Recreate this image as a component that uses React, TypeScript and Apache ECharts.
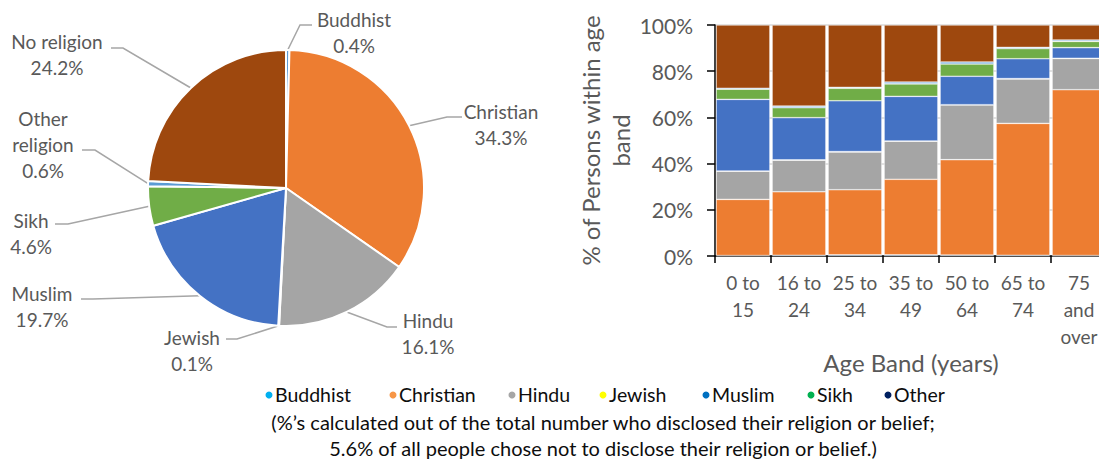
import React, { useEffect, useRef } from "react";
import * as echarts from "echarts";

const FONT = 'Lato, "Open Sans", sans-serif';

// ---- Pie data (overall) ----
const PIE_NAMES = ["Buddhist", "Christian", "Hindu", "Jewish", "Muslim", "Sikh", "Other religion", "No religion"];
const PIE_VALUES = [0.4, 34.3, 16.1, 0.1, 19.7, 4.6, 0.6, 24.2];
const PIE_COLORS = ["#5B9BD5", "#ED7D31", "#A5A5A5", "#FFC000", "#4472C4", "#70AD47", "#5B9BD5", "#9E480E"];

// ---- Stacked bar data (by age band, % of persons) ----
const AGE_BANDS = ["0 to 15", "16 to 24", "25 to 34", "35 to 49", "50 to 64", "65 to 74", "75 and over"];
const BAR_NAMES = ["Buddhist", "Christian", "Hindu", "Jewish", "Muslim", "Sikh", "Other", "No religion"];
const BUDDHIST = [0.2, 0.3, 0.5, 0.5, 0.4, 0.3, 0.2];
const CHRISTIAN = [24.3, 27.5, 28.2, 32.7, 41.3, 57.1, 71.8];
const HINDU = [12.2, 13.7, 16.3, 16.5, 23.7, 19.2, 13.5];
const JEWISH = [0.1, 0.1, 0.2, 0.1, 0.1, 0.2, 0.1];
const MUSLIM = [31.0, 18.3, 22.0, 19.3, 12.3, 8.6, 4.6];
const SIKH = [4.4, 4.3, 5.4, 5.4, 5.3, 4.4, 2.7];
const OTHER = [0.4, 0.7, 0.4, 0.8, 0.9, 0.5, 0.6];
const NO_RELIGION = [27.4, 35.1, 27.0, 24.7, 16.0, 9.7, 6.5];
const BAR_COLORS = ["#5B9BD5", "#ED7D31", "#A5A5A5", "#FFC000", "#4472C4", "#70AD47", "#5B9BD5", "#9E480E"];

// ---- Legend / footnote ----
const LEGEND_NAMES = ["Buddhist", "Christian", "Hindu", "Jewish", "Muslim", "Sikh", "Other"];
const LEGEND_COLORS = ["#00B0F0", "#F79646", "#A6A6A6", "#FFFF00", "#0070C0", "#00B050", "#002060"];
const FOOTNOTE =
  "(%\u2019s calculated out of the total number who disclosed their religion or belief;\n5.6% of all people chose not to disclose their religion or belief.)";

// ---- Layout (positions only) ----
const LEGEND_X = [275, 399, 518, 609, 712, 817, 894];
const PIE_LABEL_POS = [
  [354, 32.5], [501, 124], [428, 333.5], [192, 350],
  [42, 306.5], [31, 233], [43, 144], [57, 54.5],
];
const PIE_LEADER = [
  [[300, 25], [312, 25]],
  [[447, 117], [462, 117]],
  [[387, 327], [397, 327]],
  [[237, 339], [226, 339]],
  [[93, 299], [81, 299]],
  [[68, 224], [55, 224]],
  [[95, 150], [82, 150]],
  [[123, 48], [111, 48]],
];

export default function App() {
  const ref = useRef<HTMLDivElement>(null);

  useEffect(() => {
    document.body.style.margin = "0";
    if (!ref.current) return;
    const chart = echarts.init(ref.current, null, { renderer: "svg" });

    const barData = [BUDDHIST, CHRISTIAN, HINDU, JEWISH, MUSLIM, SIKH, OTHER, NO_RELIGION];

    const option: any = {
      animation: false,
      textStyle: { fontFamily: FONT },
      grid: { left: 715, top: 25, width: 392, height: 231, containLabel: false, outerBoundsMode: "none" },
      xAxis: {
        type: "category",
        data: AGE_BANDS,
        axisLine: { show: true, lineStyle: { color: "#000", width: 1.5 } },
        axisTick: { show: true, length: 7, lineStyle: { color: "#000", width: 1.5 } },
        axisLabel: {
          interval: 0,
          margin: 13,
          fontFamily: FONT,
          fontSize: 19,
          lineHeight: 27,
          color: "#595959",
          formatter: (v: string) =>
            v.indexOf(" and ") >= 0 ? v.split(" ").join("\n") : v.replace(/ (\d+)$/, "\n$1"),
        },
        name: "Age Band (years)",
        nameLocation: "middle",
        nameGap: 89,
        nameTextStyle: { fontFamily: FONT, fontSize: 24, color: "#595959" },
      },
      yAxis: {
        type: "value",
        min: 0,
        max: 100,
        interval: 20,
        axisLine: { show: true, lineStyle: { color: "#000", width: 1.5 } },
        axisTick: { show: true, length: 8, lineStyle: { color: "#000", width: 1.5 } },
        axisLabel: { formatter: "{value}%", fontFamily: FONT, fontSize: 21, color: "#595959", margin: 22 },
        splitLine: { show: true, lineStyle: { color: "#D9D9D9", width: 1.5 } },
        name: "% of Persons within age\nband",
        nameLocation: "middle",
        nameRotate: 90,
        nameGap: 75,
        nameTextStyle: { fontFamily: FONT, fontSize: 24, lineHeight: 30, color: "#595959", align: "center" },
      },
      series: [
        {
          type: "pie",
          center: [286, 188],
          radius: 138,
          startAngle: 90,
          clockwise: true,
          avoidLabelOverlap: false,
          itemStyle: { borderColor: "#fff", borderWidth: 2 },
          label: {
            show: true,
            position: "outside",
            fontFamily: FONT,
            fontSize: 19,
            lineHeight: 26,
            color: "#595959",
            align: "center",
            formatter: (p: any) =>
              (p.name === "Other religion" ? "Other\nreligion" : p.name) + "\n" + Number(p.value).toFixed(1) + "%",
          },
          labelLine: { show: true, length: 10, length2: 10, lineStyle: { color: "#A6A6A6", width: 1.5 } },
          labelLayout: (params: any) => {
            const i = params.dataIndex;
            const pos = PIE_LABEL_POS[i];
            const start = params.labelLinePoints && params.labelLinePoints[0];
            const pts = start ? [start, PIE_LEADER[i][0], PIE_LEADER[i][1]] : undefined;
            return {
              x: pos[0],
              y: pos[1],
              align: "center",
              verticalAlign: "middle",
              labelLinePoints: pts,
            };
          },
          data: PIE_NAMES.map((n, i) => ({ name: n, value: PIE_VALUES[i], itemStyle: { color: PIE_COLORS[i] } })),
        },
        ...BAR_NAMES.map((n, i) => ({
          type: "bar",
          name: n,
          stack: "total",
          barCategoryGap: "4%",
          data: barData[i],
          itemStyle: { color: BAR_COLORS[i], borderColor: "rgba(255,255,255,0.7)", borderWidth: 0.6 },
        })),
      ],
      graphic: [
        ...LEGEND_NAMES.flatMap((n, i) => [
          { type: "circle", shape: { cx: LEGEND_X[i] - 6, cy: 395, r: 3.5 }, style: { fill: LEGEND_COLORS[i] } },
          {
            type: "text",
            x: LEGEND_X[i],
            y: 394,
            style: { text: n, fontFamily: FONT, fontSize: 19.5, fill: "#0D0D0D", verticalAlign: "middle", align: "left" },
          },
        ]),
        {
          type: "text",
          x: 603,
          y: 435,
          style: {
            text: FOOTNOTE,
            fontFamily: FONT,
            fontSize: 20,
            lineHeight: 26.5,
            fill: "#0D0D0D",
            align: "center",
            verticalAlign: "middle",
          },
        },
      ],
    };

    chart.setOption(option);
    return () => chart.dispose();
  }, []);

  return <div ref={ref} style={{ width: 1099, height: 462 }} />;
}
